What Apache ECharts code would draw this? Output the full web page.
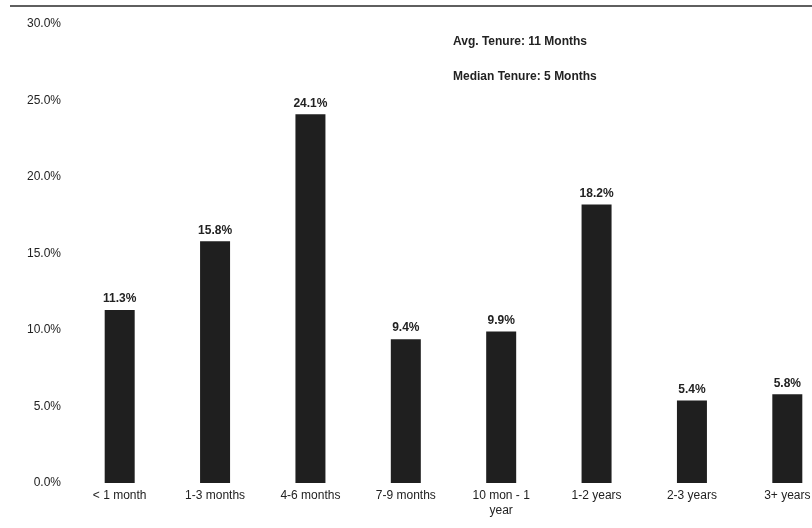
<!DOCTYPE html>
<html>
<head>
<meta charset="utf-8">
<script src="https://cdn.jsdelivr.net/npm/echarts@6/dist/echarts.min.js"></script>
<style>
  html, body { margin: 0; padding: 0; background: #fff; }
  #chart { width: 812px; height: 528px; }
</style>
</head>
<body>
<div id="chart"></div>
<script>
// Share of employees by tenure bucket
const categories = ['< 1 month', '1-3 months', '4-6 months', '7-9 months', '10 mon - 1\nyear', '1-2 years', '2-3 years', '3+ years'];
const shares = [11.3, 15.8, 24.1, 9.4, 9.9, 18.2, 5.4, 5.8];
const notes = ['Avg. Tenure: 11 Months', 'Median Tenure: 5 Months'];

const FONT = '"Liberation Sans", Arial, sans-serif';
const chart = echarts.init(document.getElementById('chart'), null, { renderer: 'canvas' });

chart.setOption({
  backgroundColor: '#ffffff',
  animation: false,
  // the plot runs slightly past the right edge of the canvas
  grid: { left: 72, top: 24, width: 763, bottom: 45, containLabel: false, outerBoundsMode: 'none' },
  xAxis: {
    type: 'category',
    data: categories,
    axisLine: { show: false },
    axisTick: { show: false },
    axisLabel: {
      color: '#222', fontFamily: FONT, fontSize: 12, margin: 5, interval: 0, lineHeight: 15
    }
  },
  yAxis: {
    type: 'value',
    min: 0, max: 30, interval: 5,
    splitLine: { show: false },
    axisLine: { show: false },
    axisTick: { show: false },
    axisLabel: {
      color: '#222', fontFamily: FONT, fontSize: 12, margin: 11,
      formatter: v => v.toFixed(1) + '%'
    }
  },
  series: [{
    type: 'bar',
    data: shares,
    barWidth: 30,
    itemStyle: { color: '#1f1f1f' },
    label: {
      show: true, position: 'top', distance: 5,
      color: '#222', fontFamily: FONT, fontSize: 12, fontWeight: 'bold',
      formatter: p => p.value.toFixed(1) + '%'
    }
  }],
  graphic: [
    { type: 'line', shape: { x1: 10, y1: 6, x2: 812, y2: 6 }, style: { stroke: '#2a2a2a', lineWidth: 1.5 } },
    { type: 'text', left: 453, top: 36, style: { text: notes[0], fill: '#222', font: 'bold 12px ' + FONT } },
    { type: 'text', left: 453, top: 71, style: { text: notes[1], fill: '#222', font: 'bold 12px ' + FONT } }
  ]
});
</script>
</body>
</html>
